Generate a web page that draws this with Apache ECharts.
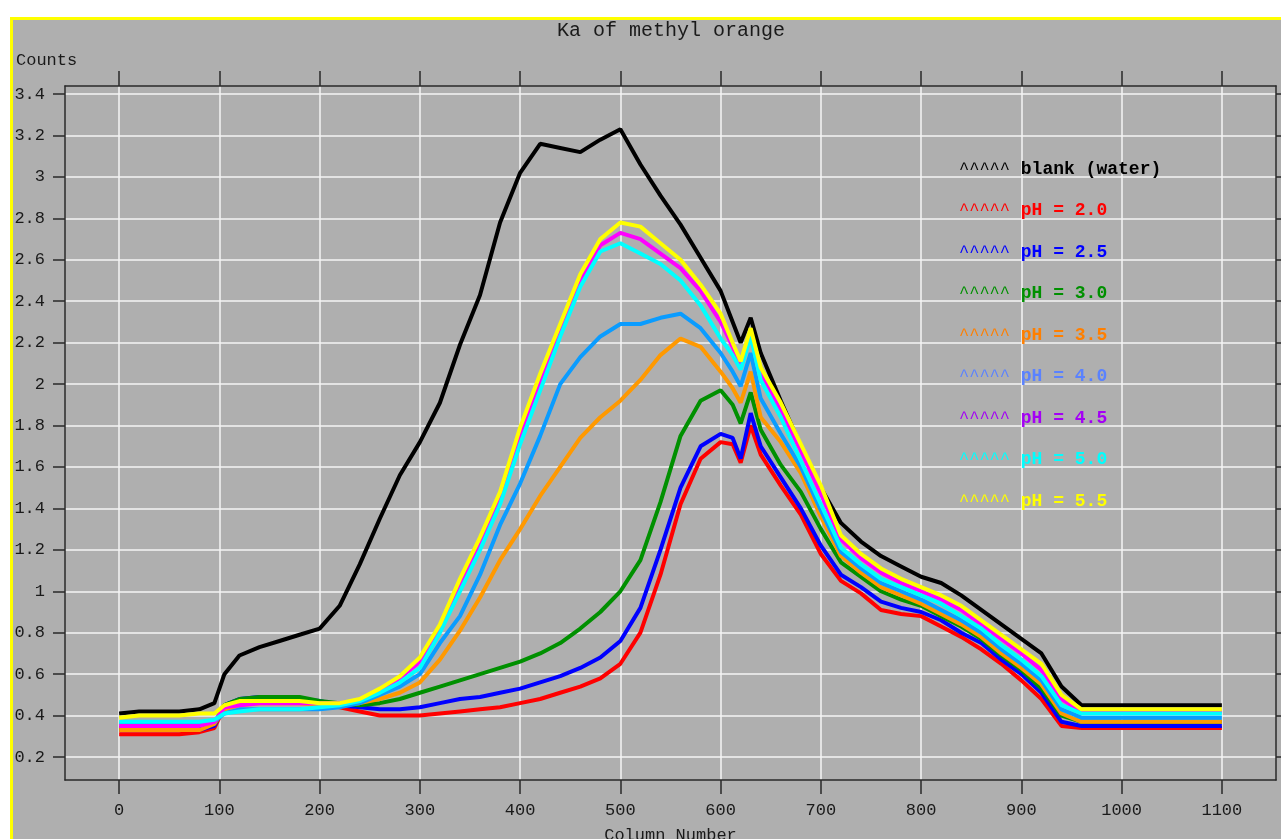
<!DOCTYPE html>
<html>
<head>
<meta charset="utf-8">
<title>Ka of methyl orange</title>
<script src="https://cdn.jsdelivr.net/npm/echarts@6/dist/echarts.min.js"></script>
<style>
  html, body { margin: 0; padding: 0; background: #fff; }
  #chart { width: 1281px; height: 839px; }
</style>
</head>
<body>
<div id="chart"></div>
<script>
// column numbers where the curves were read
var cols = [0, 20, 40, 60, 80, 95, 105, 120, 140, 160, 180, 200, 220, 240, 260, 280, 300, 320, 340, 360,
  380, 400, 420, 440, 460, 480, 500, 520, 540, 560, 580, 600, 612, 620, 630, 640, 660, 680, 700, 720,
  740, 760, 780, 800, 820, 840, 860, 880, 900, 920, 940, 960, 980, 1000, 1020, 1040, 1060, 1080, 1100];

var blank = [0.41, 0.42, 0.42, 0.42, 0.43, 0.46, 0.60, 0.69, 0.73, 0.76, 0.79, 0.82, 0.93, 1.13, 1.35, 1.56, 1.72, 1.91, 2.19, 2.43,
  2.78, 3.02, 3.16, 3.14, 3.12, 3.18, 3.23, 3.06, 2.91, 2.77, 2.61, 2.45, 2.30, 2.20, 2.32, 2.15, 1.92, 1.70, 1.50, 1.33,
  1.24, 1.17, 1.12, 1.07, 1.04, 0.98, 0.91, 0.84, 0.77, 0.70, 0.54, 0.45, 0.45, 0.45, 0.45, 0.45, 0.45, 0.45, 0.45];
var ph20 = [0.31, 0.31, 0.31, 0.31, 0.32, 0.34, 0.44, 0.47, 0.48, 0.48, 0.47, 0.46, 0.44, 0.42, 0.40, 0.40, 0.40, 0.41, 0.42, 0.43,
  0.44, 0.46, 0.48, 0.51, 0.54, 0.58, 0.65, 0.80, 1.08, 1.42, 1.64, 1.72, 1.71, 1.62, 1.80, 1.66, 1.51, 1.37, 1.18, 1.05,
  0.99, 0.91, 0.89, 0.88, 0.83, 0.78, 0.72, 0.65, 0.57, 0.48, 0.35, 0.34, 0.34, 0.34, 0.34, 0.34, 0.34, 0.34, 0.34];
var ph25 = [0.33, 0.33, 0.33, 0.33, 0.33, 0.35, 0.45, 0.48, 0.49, 0.49, 0.48, 0.47, 0.45, 0.44, 0.43, 0.43, 0.44, 0.46, 0.48, 0.49,
  0.51, 0.53, 0.56, 0.59, 0.63, 0.68, 0.76, 0.92, 1.20, 1.50, 1.70, 1.76, 1.74, 1.64, 1.86, 1.70, 1.55, 1.40, 1.22, 1.08,
  1.02, 0.95, 0.92, 0.90, 0.86, 0.80, 0.75, 0.67, 0.60, 0.51, 0.37, 0.35, 0.35, 0.35, 0.35, 0.35, 0.35, 0.35, 0.35];
var ph30 = [0.34, 0.34, 0.34, 0.34, 0.34, 0.36, 0.45, 0.48, 0.49, 0.49, 0.49, 0.47, 0.46, 0.45, 0.46, 0.48, 0.51, 0.54, 0.57, 0.60,
  0.63, 0.66, 0.70, 0.75, 0.82, 0.90, 1.00, 1.15, 1.43, 1.75, 1.92, 1.97, 1.90, 1.81, 1.96, 1.78, 1.61, 1.48, 1.30, 1.14,
  1.07, 1.00, 0.96, 0.93, 0.88, 0.83, 0.77, 0.69, 0.62, 0.53, 0.40, 0.37, 0.37, 0.37, 0.37, 0.37, 0.37, 0.37, 0.37];
var ph35 = [0.33, 0.33, 0.33, 0.33, 0.33, 0.36, 0.43, 0.45, 0.46, 0.46, 0.46, 0.45, 0.45, 0.46, 0.48, 0.51, 0.56, 0.67, 0.81, 0.97,
  1.15, 1.30, 1.46, 1.60, 1.74, 1.84, 1.92, 2.02, 2.14, 2.22, 2.18, 2.06, 1.98, 1.91, 2.06, 1.84, 1.72, 1.57, 1.36, 1.17,
  1.09, 1.02, 0.98, 0.94, 0.89, 0.84, 0.78, 0.70, 0.63, 0.55, 0.41, 0.37, 0.37, 0.37, 0.37, 0.37, 0.37, 0.37, 0.37];
var ph40 = [0.36, 0.36, 0.36, 0.36, 0.36, 0.37, 0.41, 0.43, 0.43, 0.43, 0.43, 0.43, 0.44, 0.46, 0.50, 0.54, 0.60, 0.75, 0.88, 1.08,
  1.32, 1.52, 1.75, 2.00, 2.13, 2.23, 2.29, 2.29, 2.32, 2.34, 2.27, 2.15, 2.06, 1.99, 2.15, 1.93, 1.76, 1.60, 1.39, 1.19,
  1.11, 1.04, 1.00, 0.96, 0.91, 0.86, 0.80, 0.72, 0.65, 0.57, 0.43, 0.39, 0.39, 0.39, 0.39, 0.39, 0.39, 0.39, 0.39];
var ph45 = [0.35, 0.35, 0.35, 0.35, 0.35, 0.37, 0.44, 0.45, 0.46, 0.46, 0.46, 0.46, 0.46, 0.47, 0.52, 0.58, 0.66, 0.82, 1.03, 1.23,
  1.45, 1.75, 2.01, 2.26, 2.50, 2.67, 2.73, 2.70, 2.63, 2.56, 2.45, 2.30, 2.18, 2.09, 2.25, 2.05, 1.87, 1.68, 1.47, 1.25,
  1.16, 1.09, 1.04, 1.00, 0.96, 0.91, 0.84, 0.77, 0.70, 0.62, 0.48, 0.42, 0.42, 0.42, 0.42, 0.42, 0.42, 0.42, 0.42];
var ph50 = [0.37, 0.37, 0.37, 0.37, 0.37, 0.38, 0.41, 0.42, 0.43, 0.43, 0.43, 0.44, 0.45, 0.47, 0.51, 0.56, 0.63, 0.80, 1.00, 1.20,
  1.42, 1.71, 1.97, 2.23, 2.47, 2.64, 2.68, 2.63, 2.58, 2.50, 2.38, 2.22, 2.14, 2.07, 2.23, 2.02, 1.84, 1.63, 1.42, 1.21,
  1.13, 1.06, 1.02, 0.98, 0.94, 0.88, 0.82, 0.74, 0.67, 0.59, 0.45, 0.41, 0.41, 0.41, 0.41, 0.41, 0.41, 0.41, 0.41];
var ph55 = [0.39, 0.40, 0.40, 0.40, 0.41, 0.41, 0.45, 0.47, 0.47, 0.47, 0.47, 0.46, 0.46, 0.48, 0.53, 0.59, 0.68, 0.84, 1.06, 1.26,
  1.48, 1.79, 2.05, 2.29, 2.53, 2.70, 2.78, 2.76, 2.68, 2.60, 2.48, 2.34, 2.20, 2.11, 2.27, 2.08, 1.91, 1.71, 1.51, 1.27,
  1.18, 1.11, 1.06, 1.02, 0.98, 0.93, 0.86, 0.79, 0.72, 0.65, 0.50, 0.43, 0.43, 0.43, 0.43, 0.43, 0.43, 0.43, 0.43];

var names = ['blank (water)', 'pH = 2.0', 'pH = 2.5', 'pH = 3.0', 'pH = 3.5', 'pH = 4.0', 'pH = 4.5', 'pH = 5.0', 'pH = 5.5'];
var values = [blank, ph20, ph25, ph30, ph35, ph40, ph45, ph50, ph55];
var lineColors = ['#000000', '#ff0000', '#0000ff', '#009000', '#ff9900', '#0a9cff', '#ff00ff', '#00ffff', '#ffff00'];
var legendColors = ['#000000', '#ff0000', '#0000ff', '#009000', '#ff7f00', '#5a82ff', '#a400f5', '#00ffff', '#ffff00'];

var xTicks = [0, 100, 200, 300, 400, 500, 600, 700, 800, 900, 1000, 1100];
var yTicks = [0.2, 0.4, 0.6, 0.8, 1, 1.2, 1.4, 1.6, 1.8, 2, 2.2, 2.4, 2.6, 2.8, 3, 3.2, 3.4];

var mono = '"Liberation Mono", "DejaVu Sans Mono", monospace';

var myChart = echarts.init(document.getElementById('chart'));

function pairs(vals) {
    var out = [];
    for (var i = 0; i < cols.length; i++) {
        out.push([cols[i], vals[i]]);
    }
    return out;
}

var series = [];
for (var i = 0; i < names.length; i++) {
    series.push({
        name: names[i],
        type: 'line',
        showSymbol: false,
        color: lineColors[i],
        lineStyle: { width: 4, color: lineColors[i] },
        data: pairs(values[i])
    });
}

var legendData = names.map(function (n, i) {
    return { name: n, textStyle: { color: legendColors[i] } };
});

var axisLineStyle = { color: '#2a2a2a', width: 1.5 };

myChart.setOption({
    backgroundColor: '#afafaf',
    animation: false,
    title: {
        text: 'Ka of methyl orange',
        left: 671,
        top: 21,
        padding: 0,
        textAlign: 'center',
        textStyle: { fontFamily: mono, fontSize: 20, fontWeight: 'normal', color: '#1a1a1a' }
    },
    legend: {
        orient: 'vertical',
        left: 949,
        top: 154,
        itemGap: 21.5,
        itemWidth: 0,
        itemHeight: 20,
        icon: 'none',
        data: legendData,
        formatter: function (name) { return '{c|^^^^^} {n|' + name + '}'; },
        textStyle: {
            fontFamily: mono,
            fontSize: 18,
            lineHeight: 20,
            rich: {
                c: { fontFamily: mono, fontSize: 17, fontWeight: 'normal' },
                n: { fontFamily: mono, fontSize: 18, fontWeight: 'bold' }
            }
        }
    },
    grid: { left: 65, top: 86, right: 5, bottom: 59, containLabel: false, outerBoundsMode: 'none' },
    xAxis: [{
        type: 'value',
        min: -54, max: 1154,
        splitNumber: 12,
        name: 'Column Number',
        nameLocation: 'middle',
        nameGap: 47,
        nameTextStyle: { fontFamily: mono, fontSize: 17, color: '#1a1a1a' },
        axisLine: { onZero: false, lineStyle: axisLineStyle },
        axisTick: { inside: false, length: 14, customValues: xTicks, lineStyle: axisLineStyle },
        axisLabel: {
            customValues: xTicks, margin: 22, fontFamily: mono, fontSize: 17, color: '#1a1a1a',
            formatter: function (v) { return String(v); }
        },
        splitLine: { show: true, lineStyle: { color: '#f4f4f4', width: 1.5 } }
    }, {
        type: 'value',
        position: 'top',
        min: -54, max: 1154,
        splitNumber: 12,
        axisLine: { onZero: false, lineStyle: axisLineStyle },
        axisTick: { inside: false, length: 15, customValues: xTicks, lineStyle: axisLineStyle },
        axisLabel: { show: false },
        splitLine: { show: false }
    }],
    yAxis: [{
        type: 'value',
        min: 0.089, max: 3.439,
        splitNumber: 16,
        axisLine: { show: true, onZero: false, lineStyle: axisLineStyle },
        axisTick: { show: true, inside: false, length: 12, customValues: yTicks, lineStyle: axisLineStyle },
        axisLabel: { customValues: yTicks, margin: 20, fontFamily: mono, fontSize: 17, color: '#1a1a1a' },
        splitLine: { show: true, lineStyle: { color: '#f4f4f4', width: 1.5 } }
    }, {
        type: 'value',
        position: 'right',
        min: 0.089, max: 3.439,
        splitNumber: 16,
        axisLine: { show: true, onZero: false, lineStyle: axisLineStyle },
        axisTick: { show: true, inside: false, length: 12, customValues: yTicks, lineStyle: axisLineStyle },
        axisLabel: { show: false },
        splitLine: { show: false }
    }],
    graphic: [
        { type: 'rect', silent: true, shape: { x: 0, y: 0, width: 1281, height: 17 }, style: { fill: '#ffffff' } },
        { type: 'rect', silent: true, shape: { x: 0, y: 0, width: 10, height: 839 }, style: { fill: '#ffffff' } },
        { type: 'rect', silent: true, shape: { x: 10, y: 17, width: 1271, height: 3 }, style: { fill: '#ffff00' } },
        { type: 'rect', silent: true, shape: { x: 10, y: 17, width: 3, height: 822 }, style: { fill: '#ffff00' } },
        {
            type: 'text', left: 16, top: 52, silent: true,
            style: { text: 'Counts', fontFamily: mono, fontSize: 17, fill: '#1a1a1a' }
        }
    ],
    series: series
});
</script>
</body>
</html>
